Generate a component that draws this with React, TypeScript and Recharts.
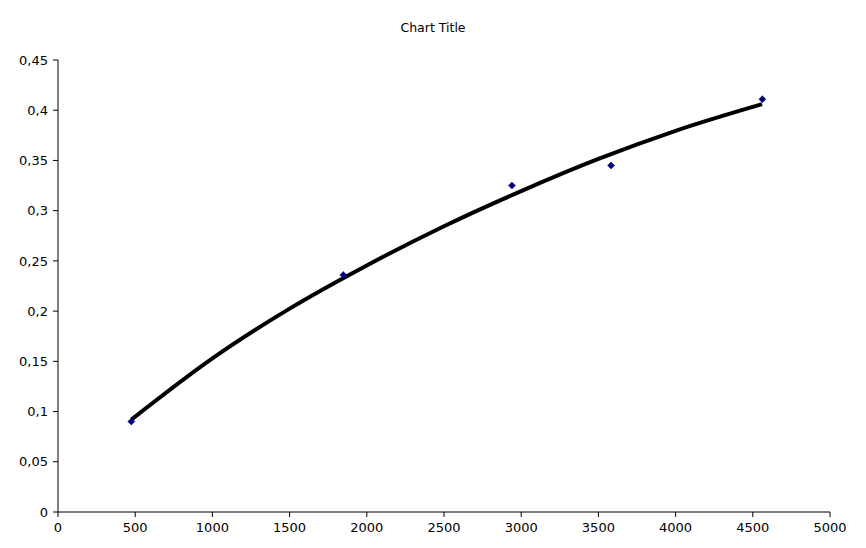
import React from "react";
import { ComposedChart, Line, Scatter, XAxis, YAxis } from "recharts";

const pointX = [475, 1848, 2940, 3582, 4562];
const pointY = [0.09, 0.236, 0.325, 0.345, 0.411];

const trendX = [475, 1000, 1500, 2000, 2500, 3000, 3500, 4000, 4560];
const trendY = [0.092, 0.153, 0.2025, 0.2455, 0.2845, 0.3195, 0.3515, 0.3795, 0.406];

const xTicks = [0, 500, 1000, 1500, 2000, 2500, 3000, 3500, 4000, 4500, 5000];
const yTicks = [0, 0.05, 0.1, 0.15, 0.2, 0.25, 0.3, 0.35, 0.4, 0.45];

const points = pointX.map((x, i) => ({ x, y: pointY[i] }));
const trend = trendX.map((x, i) => ({ x, t: trendY[i] }));

const fmtY = (v: number) => String(parseFloat(v.toFixed(2))).replace(".", ",");

const Diamond = (props: any) => {
  const { cx, cy } = props;
  const r = 3.5;
  return (
    <polygon
      points={`${cx},${cy - r} ${cx + r},${cy} ${cx},${cy + r} ${cx - r},${cy}`}
      fill="#000080"
      stroke="#000080"
      strokeWidth={0.5}
    />
  );
};

const font = "'DejaVu Sans', sans-serif";

export default function App() {
  return (
    <div style={{ position: "relative", marginLeft: -8, marginTop: -8, width: 866, height: 548, background: "#fff" }}>
      <div
        style={{
          position: "absolute",
          left: 0,
          top: 20,
          width: 866,
          textAlign: "center",
          fontFamily: font,
          fontSize: 12.5,
          color: "#000",
          lineHeight: "16px",
        }}
      >
        Chart Title
      </div>
      <ComposedChart width={866} height={548} margin={{ top: 60, right: 36, bottom: 0, left: 0 }}>
        <XAxis
          type="number"
          dataKey="x"
          domain={[0, 5000]}
          ticks={xTicks}
          allowDataOverflow
          height={36}
          stroke="#000"
          tickSize={5}
          tickMargin={6}
          tick={{ fill: "#000", fontSize: 13, fontFamily: font }}
          interval={0}
        />
        <YAxis
          type="number"
          domain={[0, 0.45]}
          ticks={yTicks}
          allowDataOverflow
          width={58}
          stroke="#000"
          tickSize={5}
          tickMargin={5}
          tickFormatter={fmtY}
          tick={{ fill: "#000", fontSize: 13, fontFamily: font }}
          interval={0}
        />
        <Scatter data={points} dataKey="y" shape={<Diamond />} isAnimationActive={false} />
        <Line
          data={trend}
          dataKey="t"
          type="monotone"
          stroke="#000"
          strokeWidth={4}
          dot={false}
          activeDot={false}
          isAnimationActive={false}
        />
      </ComposedChart>
    </div>
  );
}
